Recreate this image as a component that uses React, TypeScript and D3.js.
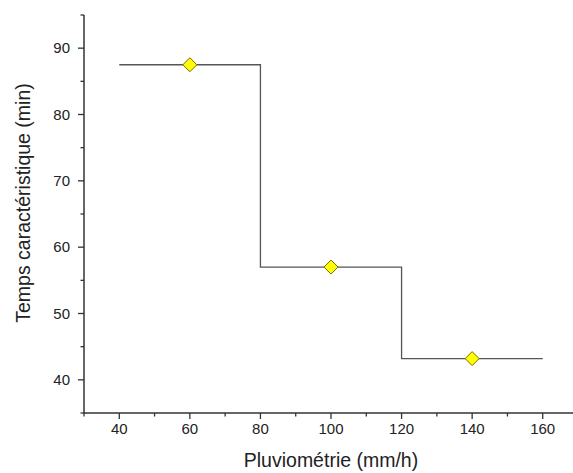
import React from "react";
import * as d3 from "d3";

const stepX: number[] = [40, 80, 80, 120, 120, 160];
const stepY: number[] = [87.5, 87.5, 57, 57, 43.2, 43.2];
const pointX: number[] = [60, 100, 140];
const pointY: number[] = [87.5, 57, 43.2];
const xTicks: number[] = [40, 60, 80, 100, 120, 140, 160];
const xMinor: number[] = [30, 50, 70, 90, 110, 130, 150, 170];
const yTicks: number[] = [40, 50, 60, 70, 80, 90];
const yMinor: number[] = [35, 45, 55, 65, 75, 85, 95];
const xTitle = "Pluviométrie (mm/h)";
const yTitle = "Temps caractéristique (min)";

export default function App() {
  const W = 573, H = 473;
  const x = d3.scaleLinear().domain([30, 170]).range([84, 578]);
  const y = d3.scaleLinear().domain([35, 95]).range([413, 15]);
  const line = d3.line<number>().x((_, i) => x(stepX[i])).y((d) => y(d));
  const font = "'Liberation Sans', Arial, sans-serif";
  const axisColor = "#333";
  return (
    <svg width={W} height={H} style={{ position: "absolute", left: 0, top: 0, background: "#fff" }}>
      <rect x={0} y={0} width={W} height={H} fill="#fff" />
      <path d={line(stepY) || ""} fill="none" stroke="#555" strokeWidth={1.3} />
      {pointX.map((px, i) => {
        const cx = x(px), cy = y(pointY[i]), r = 7;
        return (
          <path key={i} d={`M${cx},${cy - r}L${cx + r},${cy}L${cx},${cy + r}L${cx - r},${cy}Z`}
            fill="#ffff00" stroke="#7a6a00" strokeWidth={1} />
        );
      })}
      {/* axes */}
      <line x1={x(30)} x2={x(30)} y1={y(95)} y2={y(35)} stroke={axisColor} strokeWidth={1.5} />
      <line x1={x(30)} x2={x(170)} y1={y(35)} y2={y(35)} stroke={axisColor} strokeWidth={1.5} />
      {xTicks.map((t) => (
        <g key={"xt" + t}>
          <line x1={x(t)} x2={x(t)} y1={y(35)} y2={y(35) + 6} stroke={axisColor} strokeWidth={1.3} />
          <text x={x(t)} y={434} textAnchor="middle" fontFamily={font} fontSize={15} fill="#222">{t}</text>
        </g>
      ))}
      {xMinor.map((t) => (
        <line key={"xm" + t} x1={x(t)} x2={x(t)} y1={y(35)} y2={y(35) + 3.5} stroke={axisColor} strokeWidth={1.3} />
      ))}
      {yTicks.map((t) => (
        <g key={"yt" + t}>
          <line x1={x(30)} x2={x(30) - 6} y1={y(t)} y2={y(t)} stroke={axisColor} strokeWidth={1.3} />
          <text x={70} y={y(t) + 5} textAnchor="end" fontFamily={font} fontSize={15} fill="#222">{t}</text>
        </g>
      ))}
      {yMinor.map((t) => (
        <line key={"ym" + t} x1={x(30)} x2={x(30) - 3.5} y1={y(t)} y2={y(t)} stroke={axisColor} strokeWidth={1.3} />
      ))}
      <text x={x(100)} y={467} textAnchor="middle" fontFamily={font} fontSize={19.5} fill="#222">{xTitle}</text>
      <text transform={`translate(30,${203}) rotate(-90)`} textAnchor="middle" fontFamily={font} fontSize={19.5} fill="#222">{yTitle}</text>
    </svg>
  );
}
